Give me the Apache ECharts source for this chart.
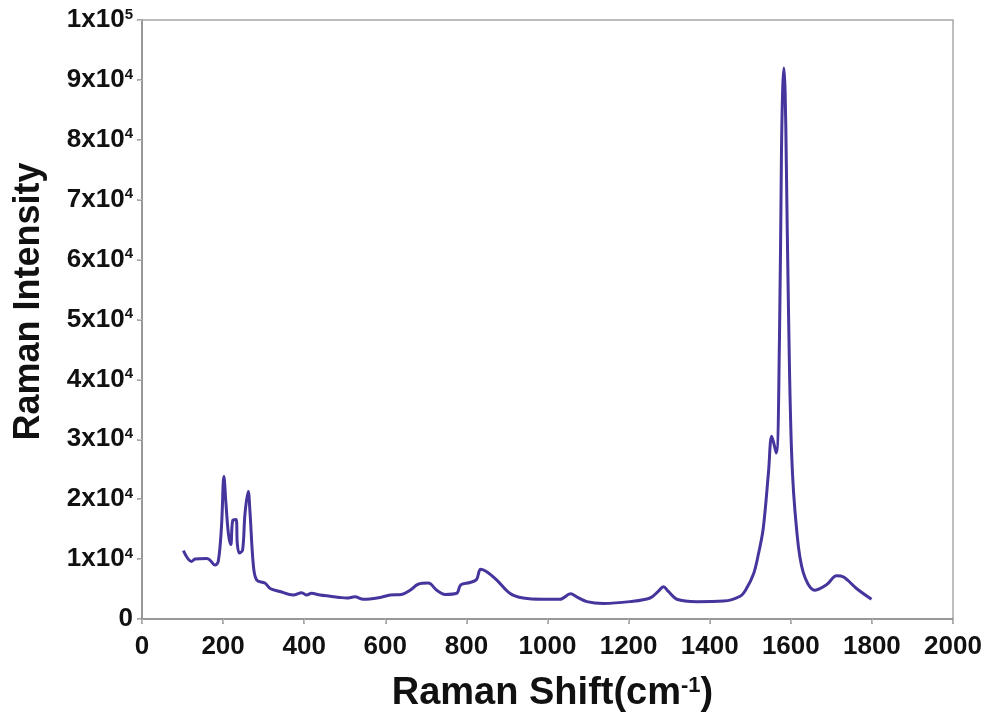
<!DOCTYPE html>
<html>
<head>
<meta charset="utf-8">
<script src="https://cdn.jsdelivr.net/npm/echarts@6/dist/echarts.min.js"></script>
<style>
html,body{margin:0;padding:0;background:#fff;}
#chart{width:987px;height:713px;}
</style>
</head>
<body>
<div id="chart"></div>
<script>
// Raman shift (cm-1)
const ramanShift = [102,122,131,160,168,180,188,196,202,207,213,219,224,232,235,240,248,254,262,266,275,283,303,316,340,373,394,406,418,439,464,488,505,525,546,587,612,640,661,681,706,727,747,776,786,809,825,835,850,875,907,940,990,1031,1057,1072,1097,1138,1203,1253,1273,1286,1298,1319,1368,1434,1475,1490,1508,1520,1532,1545,1553,1564,1572,1577,1580,1583,1586,1589,1594,1602,1614,1631,1660,1688,1713,1730,1762,1799];
// Raman intensity
const intensity = [11400,9600,10000,10100,9800,9000,9600,15400,23800,19300,14300,12400,16500,16600,12600,11000,11500,17600,21300,18200,8700,6500,6000,5100,4600,4000,4400,4000,4300,4000,3800,3600,3500,3700,3300,3600,4000,4100,4800,5800,6000,4800,4100,4300,5700,6100,6600,8300,7900,6500,4300,3500,3300,3300,4200,3700,2900,2600,2900,3500,4600,5400,4600,3300,2900,3000,3800,5000,7500,10800,15100,24500,30500,27700,46600,78000,88500,92000,88000,76000,52800,27700,15200,7700,4800,5700,7200,7000,5100,3300];
const xTicks = [0,200,400,600,800,1000,1200,1400,1600,1800,2000];
const yTicks = [0,10000,20000,30000,40000,50000,60000,70000,80000,90000,100000];

const data = ramanShift.map((x, i) => [x, intensity[i]]);
const FONT = '"Liberation Sans", Arial, Helvetica, sans-serif';
const axisCol = '#8c8c8c';

function yLabel(v) {
  if (v === 0) return '{a|0}';
  if (v >= 100000) return '{a|1x10}{s|5}';
  return '{a|' + Math.round(v / 10000) + 'x10}{s|4}';
}

const chart = echarts.init(document.getElementById('chart'), null, {renderer: 'canvas'});
chart.setOption({
  backgroundColor: '#ffffff',
  animation: false,
  grid: {left: 142, right: 34, top: 20, bottom: 94, show: true, borderColor: '#a8a8a8', borderWidth: 1.5,
    containLabel: false, outerBoundsMode: 'none'},
  xAxis: [{
    type: 'value', min: xTicks[0], max: xTicks[xTicks.length - 1], interval: xTicks[1] - xTicks[0],
    axisLine: {show: true, onZero: false, lineStyle: {color: axisCol, width: 1.5}},
    axisTick: {show: true, length: 5, lineStyle: {color: axisCol, width: 1.5}},
    splitLine: {show: false},
    axisLabel: {color: '#111', fontFamily: FONT, fontWeight: 'bold', fontSize: 26, margin: 15,
      formatter: v => String(v)},
    name: '{t|Raman Shift(cm}{s|-1}{t|)}',
    nameLocation: 'middle', nameGap: 56,
    nameTextStyle: {
      padding: [0, 0, 0, 10],
      rich: {
        t: {fontFamily: FONT, fontWeight: 'bold', fontSize: 38, color: '#111'},
        s: {fontFamily: FONT, fontWeight: 'bold', fontSize: 22, color: '#111', padding: [0, 0, 16, 0]}
      }
    }
  }, {
    type: 'value', min: 0, max: 2000, interval: 200, position: 'top',
    axisLine: {show: false}, axisLabel: {show: false}, splitLine: {show: false},
    axisTick: {show: true, inside: true, length: 4, lineStyle: {color: '#c0c0c0'}}
  }],
  yAxis: [{
    type: 'value', min: yTicks[0], max: yTicks[yTicks.length - 1], interval: yTicks[1] - yTicks[0],
    axisLine: {show: true, onZero: false, lineStyle: {color: axisCol, width: 1.5}},
    axisTick: {show: true, length: 5, lineStyle: {color: axisCol, width: 1.5}},
    splitLine: {show: false},
    axisLabel: {
      margin: 9, formatter: yLabel,
      rich: {
        a: {fontFamily: FONT, fontWeight: 'bold', fontSize: 26, color: '#111'},
        s: {fontFamily: FONT, fontWeight: 'bold', fontSize: 15, color: '#111', padding: [0, 0, 11, 0]}
      }
    },
    name: 'Raman Intensity',
    nameLocation: 'middle', nameGap: 95, nameRotate: 90,
    nameTextStyle: {fontFamily: FONT, fontWeight: 'bold', fontSize: 36, color: '#111', padding: [0, 0, 0, 36]}
  }, {
    type: 'value', min: 0, max: 100000, interval: 10000, position: 'right',
    axisLine: {show: false}, axisLabel: {show: false}, splitLine: {show: false},
    axisTick: {show: true, inside: true, length: 4, lineStyle: {color: '#c8c8c8'}}
  }],
  series: [{
    type: 'line',
    data: data,
    xAxisIndex: 0, yAxisIndex: 0,
    showSymbol: false,
    smooth: 0.35,
    lineStyle: {color: '#45359c', width: 3},
    itemStyle: {color: '#45359c'}
  }]
});
</script>
</body>
</html>
